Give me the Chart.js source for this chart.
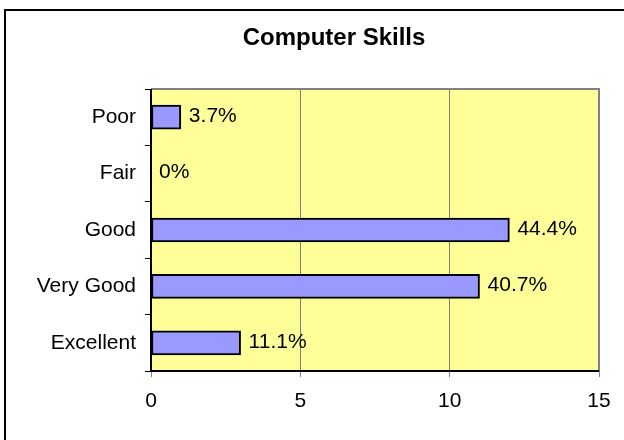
<!DOCTYPE html>
<html>
<head>
<meta charset="utf-8">
<script src="https://cdn.jsdelivr.net/npm/chart.js@4.4.0/dist/chart.umd.min.js"></script>
<style>
  html, body { margin: 0; padding: 0; background: #fff; overflow: hidden; }
  #frame {
    position: absolute; left: 4px; top: 9px;
    width: 700px; height: 500px;
    border: 2px solid #000;
  }
  #wrap { position: absolute; left: 0; top: 0; width: 624px; height: 440px; }
</style>
</head>
<body>
<div id="frame"></div>
<div id="wrap"><canvas id="skillsChart" width="624" height="440"></canvas></div>
<script>
const categories = ['Poor', 'Fair', 'Good', 'Very Good', 'Excellent'];
const counts = [1, 0, 12, 11, 3];
const pctLabels = ['3.7%', '0%', '44.4%', '40.7%', '11.1%'];
const xTicks = [0, 5, 10, 15];

const FONT = 'Arial, "Liberation Sans", sans-serif';

// yellow plot area, gray top/right frame, title, value labels
const plotDecor = {
  id: 'plotDecor',
  beforeDraw(chart) {
    const { ctx, chartArea: a } = chart;
    ctx.save();
    ctx.fillStyle = '#FFFF99';
    ctx.fillRect(a.left, a.top, a.right - a.left, a.bottom - a.top);
    ctx.restore();
  },
  afterDraw(chart) {
    const { ctx, chartArea: a } = chart;
    ctx.save();
    ctx.strokeStyle = '#808080';
    ctx.lineWidth = 2;
    ctx.beginPath();
    ctx.moveTo(a.left, a.top);
    ctx.lineTo(a.right, a.top);
    ctx.lineTo(a.right, a.bottom);
    ctx.stroke();
    ctx.strokeStyle = '#000';
    ctx.beginPath();
    ctx.moveTo(a.left, a.top);
    ctx.lineTo(a.left, a.bottom);
    ctx.lineTo(a.right, a.bottom);
    ctx.stroke();

    ctx.fillStyle = '#000';
    ctx.font = 'bold 24px ' + FONT;
    ctx.textAlign = 'center';
    ctx.textBaseline = 'alphabetic';
    ctx.fillText('Computer Skills', 334, 45);

    const meta = chart.getDatasetMeta(0);
    ctx.font = '21px ' + FONT;
    ctx.textAlign = 'left';
    ctx.textBaseline = 'middle';
    meta.data.forEach((bar, i) => {
      ctx.fillText(pctLabels[i], bar.x + 8, bar.y - 1);
    });
    ctx.restore();
  }
};

new Chart(document.getElementById('skillsChart'), {
  type: 'bar',
  data: {
    labels: categories,
    datasets: [{
      data: counts,
      backgroundColor: '#9999FF',
      borderColor: '#000',
      borderWidth: 2,
      borderSkipped: false,
      barThickness: 24
    }]
  },
  options: {
    indexAxis: 'y',
    responsive: false,
    animation: false,
    layout: { padding: { left: 0, top: 89, right: 25, bottom: 0 } },
    plugins: { legend: { display: false }, tooltip: { enabled: false }, title: { display: false } },
    scales: {
      x: {
        min: 0,
        max: 15,
        afterBuildTicks(scale) { scale.ticks = xTicks.map(v => ({ value: v })); },
        afterFit(scale) { scale.height = 69; },
        grid: { color: '#808080', lineWidth: 1, tickLength: 6, tickColor: '#808080' },
        border: { display: false },
        ticks: { color: '#000', font: { family: FONT, size: 21 }, padding: 12, maxRotation: 0 }
      },
      y: {
        afterFit(scale) { scale.width = 151; },
        grid: { drawOnChartArea: false, tickLength: 6, color: '#000', offset: true },
        border: { display: false },
        ticks: { color: '#000', font: { family: FONT, size: 21 }, padding: 9 }
      }
    }
  },
  plugins: [plotDecor]
});
</script>
</body>
</html>
